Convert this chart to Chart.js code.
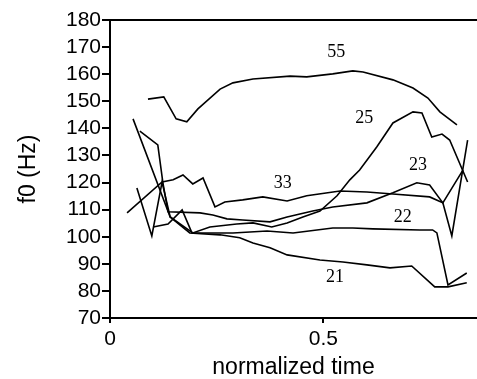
<!DOCTYPE html>
<html>
<head>
<meta charset="utf-8">
<script src="https://cdn.jsdelivr.net/npm/chart.js@4.4.0/dist/chart.umd.min.js"></script>
<style>
  body { margin: 0; background: #fff; }
  #wrap { width: 477px; height: 379px; }
</style>
</head>
<body>
<div id="wrap"><canvas id="grafico"></canvas></div>
<script>
// ===== DADOS (tempo normalizado / f0 em Hz) =====
const tempo55 = [0.089, 0.126, 0.155, 0.180, 0.206, 0.258, 0.288, 0.335, 0.422, 0.461, 0.522, 0.569, 0.593, 0.663, 0.710, 0.745, 0.773, 0.813];
const f0_55   = [150.8, 151.6, 143.5, 142.4, 147.2, 154.5, 156.8, 158.2, 159.3, 159.0, 160.1, 161.2, 160.8, 157.9, 154.9, 151.2, 146.1, 141.3];

const tempo33 = [0.040, 0.122, 0.148, 0.171, 0.194, 0.218, 0.246, 0.269, 0.311, 0.358, 0.415, 0.461, 0.539, 0.602, 0.663, 0.749, 0.780, 0.801, 0.838];
const f0_33   = [108.8, 120.2, 121.0, 122.8, 119.5, 121.7, 111.0, 112.8, 113.6, 114.7, 113.2, 115.1, 116.9, 116.5, 115.8, 114.7, 112.5, 100.3, 135.7];

const tempo23 = [0.070, 0.112, 0.124, 0.136, 0.211, 0.241, 0.274, 0.311, 0.375, 0.415, 0.475, 0.522, 0.602, 0.663, 0.719, 0.749, 0.780, 0.827];
const f0_23   = [139.0, 133.9, 119.9, 109.2, 108.8, 108.0, 106.6, 106.2, 105.5, 107.3, 109.5, 111.0, 112.5, 116.2, 119.9, 119.1, 112.5, 124.6];

const tempo25 = [0.054, 0.141, 0.194, 0.234, 0.297, 0.335, 0.379, 0.415, 0.452, 0.492, 0.532, 0.562, 0.585, 0.625, 0.663, 0.710, 0.731, 0.754, 0.778, 0.796, 0.838];
const f0_25   = [143.5, 107.3, 101.4, 103.6, 104.7, 105.1, 103.6, 105.1, 107.3, 109.5, 115.1, 121.0, 124.6, 133.1, 142.0, 146.1, 145.7, 136.8, 137.9, 135.7, 120.2];

const tempo22 = [0.101, 0.136, 0.169, 0.192, 0.288, 0.368, 0.429, 0.522, 0.569, 0.616, 0.726, 0.756, 0.766, 0.792, 0.836];
const f0_22   = [103.6, 104.7, 109.9, 101.4, 101.4, 102.1, 101.4, 103.2, 103.2, 102.9, 102.5, 102.5, 101.4, 82.2, 86.6];

const tempo21 = [0.063, 0.098, 0.122, 0.141, 0.187, 0.258, 0.304, 0.335, 0.375, 0.415, 0.492, 0.546, 0.602, 0.656, 0.707, 0.761, 0.792, 0.836];
const f0_21   = [118.0, 100.3, 120.2, 107.3, 101.4, 100.7, 99.6, 97.7, 95.9, 93.3, 91.4, 90.7, 89.6, 88.5, 89.2, 81.5, 81.5, 83.0];

// rotulos das curvas e onde ficam (em coordenadas dos dados)
const rotulos  = ['55', '25', '23', '33', '22', '21'];
const rotuloX  = [0.530, 0.596, 0.722, 0.405, 0.686, 0.527];
const rotuloY  = [168.0, 143.8, 126.2, 119.9, 107.3, 85.2];

const ticksX = [0, 0.5];

// ===== MONTAR DATASETS =====
const series = [[tempo55, f0_55], [tempo33, f0_33], [tempo23, f0_23], [tempo25, f0_25], [tempo22, f0_22], [tempo21, f0_21]];
const datasets = series.map(([xs, ys]) => ({
    data: xs.map((x, i) => ({ x: x, y: ys[i] })),
    borderColor: '#000',
    borderWidth: 1.6,
    pointRadius: 0,
    tension: 0,
    fill: false
}));

// ===== PLUGIN: moldura de cima + rotulos =====
const extras = {
    id: 'extras',
    afterDatasetsDraw(chart) {
        const { ctx, chartArea, scales } = chart;
        ctx.save();
        ctx.strokeStyle = '#000';
        ctx.lineWidth = 2;
        ctx.beginPath();
        ctx.moveTo(chartArea.left, chartArea.top);
        ctx.lineTo(chartArea.right, chartArea.top);
        ctx.stroke();

        ctx.fillStyle = '#000';
        ctx.font = '18px "Liberation Serif", "DejaVu Serif", serif';
        ctx.textAlign = 'center';
        ctx.textBaseline = 'middle';
        rotulos.forEach((r, i) => {
            ctx.fillText(r, scales.x.getPixelForValue(rotuloX[i]), scales.y.getPixelForValue(rotuloY[i]));
        });
        ctx.restore();
    }
};

const fonte = '"Liberation Sans", Arial, Helvetica, sans-serif';

new Chart(document.getElementById('grafico').getContext('2d'), {
    type: 'line',
    data: { datasets: datasets },
    options: {
        responsive: true,
        maintainAspectRatio: false,
        animation: false,
        layout: { padding: { top: 20, right: 0, bottom: 0, left: 0 } },
        plugins: { legend: { display: false }, tooltip: { enabled: false } },
        scales: {
            x: {
                type: 'linear',
                min: 0,
                max: 0.86,
                afterBuildTicks: s => { s.ticks = ticksX.map(v => ({ value: v })); },
                afterFit: s => { s.height = 61; },
                ticks: { color: '#000', font: { family: fonte, size: 21 }, padding: 4, callback: v => String(v) },
                grid: { drawOnChartArea: false, color: '#000', lineWidth: 2, tickLength: 5 },
                border: { display: true, color: '#000', width: 2 },
                title: { display: true, text: 'normalized time', color: '#000', font: { family: fonte, size: 23, lineHeight: 1 }, padding: 0 }
            },
            y: {
                min: 70,
                max: 180,
                afterFit: s => { s.width = 110; },
                ticks: { stepSize: 10, autoSkip: false, color: '#000', font: { family: fonte, size: 21 }, padding: 1 },
                grid: { drawOnChartArea: false, color: '#000', lineWidth: 2, tickLength: 8 },
                border: { display: true, color: '#000', width: 2 },
                title: { display: true, text: 'f0 (Hz)', color: '#000', font: { family: fonte, size: 23, lineHeight: 1 }, padding: { top: 17, bottom: 0 } }
            }
        }
    },
    plugins: [extras]
});
</script>
</body>
</html>
